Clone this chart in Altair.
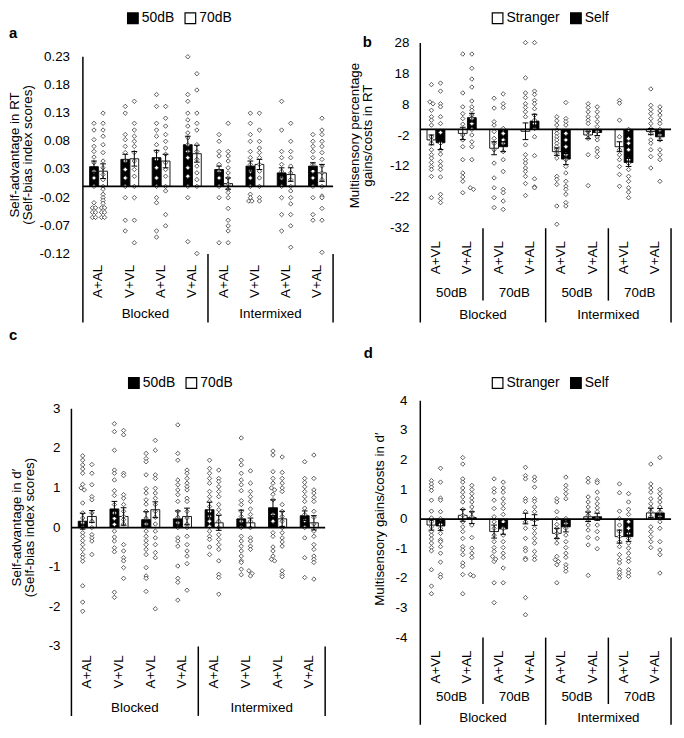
import altair as alt
import pandas as pd

FONT = "Liberation Sans"

# ---------------- Panel a : Self-advantage in RT ----------------
A_CATS = ["A+AL", "V+VL", "A+VL", "V+AL", "A+AL", "V+VL", "A+VL", "V+AL"]
A_GROUPS = ["Blocked", "Intermixed"]
A_SERIES = ["50dB", "70dB"]
A_MEAN_50 = [0.035, 0.048, 0.051, 0.074, 0.030, 0.036, 0.024, 0.036]
A_MEAN_70 = [0.027, 0.049, 0.045, 0.058, 0.005, 0.039, 0.021, 0.024]
A_SE_50 = [0.010, 0.009, 0.013, 0.015, 0.006, 0.009, 0.009, 0.006]
A_SE_70 = [0.013, 0.013, 0.012, 0.015, 0.010, 0.009, 0.012, 0.015]
A_PTS_50 = [
    [0.112, 0.10, 0.083, 0.071, 0.062, 0.052, 0.042, 0.027, 0.015, 0.0, -0.029, -0.038, -0.038, -0.046, -0.046, -0.055, -0.055],
    [0.142, 0.13, 0.092, 0.083, 0.071, 0.06, 0.045, 0.03, 0.015, 0.0, -0.02, -0.06, -0.079],
    [0.163, 0.142, 0.112, 0.10, 0.089, 0.074, 0.062, 0.048, 0.033, 0.015, 0.0, -0.02, -0.029, -0.079, -0.09],
    [0.23, 0.163, 0.151, 0.13, 0.118, 0.107, 0.095, 0.086, 0.074, 0.062, 0.051, 0.033, 0.018, 0.0, -0.02, -0.098],
    [0.092, 0.08, 0.062, 0.054, 0.039, 0.027, 0.015, 0.0, -0.02, -0.1],
    [0.13, 0.112, 0.092, 0.08, 0.062, 0.051, 0.039, 0.027, 0.015, 0.0, -0.014, -0.02, -0.026, -0.026],
    [0.151, 0.10, 0.062, 0.051, 0.039, 0.027, 0.015, 0.0, -0.02, -0.05, -0.079],
    [0.092, 0.08, 0.071, 0.062, 0.051, 0.039, 0.027, 0.015, 0.0, -0.02, -0.05, -0.06],
]
A_PTS_70 = [
    [0.13, 0.112, 0.10, 0.089, 0.074, 0.06, 0.045, 0.033, 0.021, 0.012, 0.0, -0.005, -0.014, -0.02, -0.025, -0.03, -0.038, -0.038, -0.046, -0.046, -0.055, -0.055],
    [0.151, 0.112, 0.10, 0.089, 0.08, 0.071, 0.06, 0.045, 0.03, 0.018, 0.0, -0.02, -0.06, -0.10],
    [0.142, 0.121, 0.107, 0.092, 0.08, 0.068, 0.057, 0.042, 0.03, 0.018, 0.0, -0.008, -0.05, -0.07],
    [0.2, 0.171, 0.13, 0.112, 0.10, 0.074, 0.062, 0.048, 0.036, 0.024, 0.012, 0.0, -0.119],
    [0.112, 0.062, 0.054, 0.045, 0.033, 0.024, 0.015, 0.004, -0.005, -0.011, -0.02, -0.039, -0.06, -0.07, -0.079, -0.1],
    [0.13, 0.10, 0.08, 0.068, 0.06, 0.051, 0.039, 0.027, 0.015, 0.0, -0.02, -0.026],
    [0.112, 0.08, 0.062, 0.051, 0.036, 0.024, 0.012, 0.0, -0.008, -0.02, -0.031, -0.05, -0.07, -0.108],
    [0.121, 0.10, 0.092, 0.08, 0.071, 0.06, 0.048, 0.036, 0.024, 0.012, 0.0, -0.017, -0.02, -0.039, -0.06, -0.117],
]
A_TICKS = [0.23, 0.18, 0.13, 0.08, 0.03, -0.02, -0.07, -0.12]
A_TITLE = ["Self-advantage in RT", "(Self-bias index scores)"]

# ---------------- Panel b : Multisensory gains in RT ----------------
B_CATS = ["A+VL", "V+AL", "A+VL", "V+AL", "A+VL", "V+AL", "A+VL", "V+AL"]
B_SUBS = ["50dB", "70dB", "50dB", "70dB"]
B_GROUPS = ["Blocked", "Intermixed"]
B_SERIES = ["Stranger", "Self"]
B_MEAN_STR = [-3.4, -1.3, -6.1, -0.6, -7.2, -1.8, -5.6, -0.7]
B_MEAN_SELF = [-4.3, 3.8, -5.6, 2.7, -9.6, -1.0, -10.7, -2.4]
B_SE_STR = [1.6, 2.0, 2.1, 2.7, 1.2, 1.2, 1.6, 1.0]
B_SE_SELF = [2.2, 1.4, 1.6, 2.2, 1.8, 1.0, 1.3, 1.2]
B_PTS_STR = [
    [14.5, 8.9, 8.3, 6.2, 4.1, 3.0, 1.4, -2.4, -3.4, -4.5, -6.6, -8.2, -9.3, -10.7, -12.0, -13.0, -15.2, -22.1],
    [24.4, 11.8, 7.3, 5.1, 3.5, 1.7, -1.8, -3.4, -5.6, -9.8, -14.1, -15.4, -16.8, -20.5],
    [10.1, 6.9, 2.5, 1.4, -0.7, -2.9, -4.5, -6.6, -10.9, -15.7, -18.9, -22.1, -25.3],
    [28.1, 16.7, 11.8, 10.3, 8.3, 7.1, 5.7, 4.1, -5.0, -8.2, -9.8, -10.9, -12.5, -13.6, -15.2, -17.5, -21.4],
    [4.1, 2.8, 1.4, -0.2, -1.3, -2.4, -3.4, -4.5, -5.6, -6.6, -7.7, -9.3, -15.2, -16.2, -17.8, -24.8, -30.7],
    [8.3, 7.1, 5.7, 4.1, 3.0, 1.9, -0.7, -1.8, -2.9, -8.2, -18.2],
    [9.4, 8.5, 3.0, -2.4, -6.6, -8.2, -9.8, -12.0, -14.6, -18.4],
    [13.1, 7.8, 6.4, 5.1, 3.5, 1.9, 0.3, -1.3, -3.4, -4.5, -6.6, -8.8, -12.5],
]
B_PTS_SELF = [
    [15.0, 12.4, 8.3, 7.3, 4.1, 1.9, -1.0, -4.5, -6.6, -8.0, -10.4, -11.8, -13.0, -15.4, -21.0, -22.4, -23.7],
    [24.4, 19.8, 16.3, 13.7, 9.2, 7.3, 6.2, 4.6, 3.5, 1.9, 0.0, -1.8, -4.0, -5.6, -9.8, -18.9, -19.4],
    [11.5, 8.3, 7.1, 0.3, -1.3, -3.4, -4.5, -7.2, -9.8, -13.6, -19.4, -20.5, -23.2, -25.9],
    [28.1, 12.4, 11.3, 9.4, 8.3, 6.7, 4.6, 3.0, 1.9, 0.3, -2.4, -8.5, -16.0, -18.6, -18.9],
    [8.7, 3.5, 2.5, 1.4, -1.3, -3.4, -5.6, -8.2, -9.8, -12.0, -14.1, -16.8, -18.4, -19.4, -21.0, -23.7, -24.8],
    [7.3, 5.7, 4.1, 2.5, 0.9, -0.7, -2.4, -3.4, -6.1, -7.2, -8.8],
    [0.0, -3.0, -4.5, -6.6, -9.8, -11.0, -13.0, -15.2, -16.8, -18.9, -20.3, -22.1],
    [7.3, 6.0, 4.6, 3.0, 1.9, 0.0, -1.8, -3.4, -6.6, -8.2, -9.8, -16.8],
]
B_TICKS = [28, 18, 8, -2, -12, -22, -32]
B_TITLE = ["Multisensory percentage", "gains/costs in RT"]

# ---------------- Panel c : Self-advantage in d' ----------------
C_CATS = A_CATS
C_GROUPS = ["Blocked", "Intermixed"]
C_SERIES = ["50dB", "70dB"]
C_MEAN_50 = [0.16, 0.47, 0.20, 0.22, 0.45, 0.22, 0.50, 0.30]
C_MEAN_70 = [0.28, 0.28, 0.45, 0.28, 0.12, 0.12, 0.22, 0.12]
C_SE_50 = [0.20, 0.19, 0.20, 0.20, 0.19, 0.22, 0.20, 0.12]
C_SE_70 = [0.15, 0.22, 0.20, 0.21, 0.19, 0.12, 0.19, 0.18]
C_PTS_50 = [
    [1.81, 1.7, 1.58, 1.48, 1.37, 1.09, 1.0, 0.95, 0.62, 0.37, 0.24, 0.12, 0.0, -0.13, -0.22, -0.33, -0.43, -0.55, -0.68, -0.76, -0.85, -1.47, -1.88, -2.11],
    [2.62, 2.42, 1.95, 1.45, 1.37, 1.2, 0.93, 0.81, 0.58, 0.37, 0.23, 0.08, -0.09, -0.24, -0.34, -0.51, -0.61, -1.63, -1.76],
    [1.87, 1.74, 1.66, 1.33, 0.98, 0.87, 0.7, 0.59, 0.41, 0.24, 0.09, -0.09, -0.22, -0.33, -0.43, -0.55, -0.68, -1.01, -1.22, -1.28, -1.61],
    [2.59, 1.87, 1.7, 1.2, 1.08, 0.95, 0.83, 0.66, 0.41, 0.26, 0.12, 0.0, -0.26, -0.34, -0.47, -0.97, -1.28, -1.38, -1.83],
    [1.7, 1.49, 1.37, 1.24, 1.12, 0.91, 0.78, 0.66, 0.53, 0.41, 0.28, 0.16, 0.03, -0.09, -0.22, -0.3, -0.49, -0.68],
    [2.26, 1.7, 1.58, 1.37, 1.2, 1.08, 0.93, 0.68, 0.58, 0.41, 0.28, 0.16, 0.0, -0.22, -0.34, -0.47, -0.59, -0.72, -0.84, -0.88, -1.05, -1.19],
    [1.93, 1.83, 1.41, 1.24, 1.12, 1.0, 0.95, 0.84, 0.7, 0.33, 0.16, -0.13, -0.22, -0.49, -0.59, -0.72, -0.8, -0.84],
    [1.66, 1.24, 1.14, 1.03, 0.91, 0.78, 0.66, 0.49, 0.33, 0.18, 0.0, -0.26, -0.76, -1.26],
]
C_PTS_70 = [
    [1.59, 1.37, 1.08, 0.78, 0.7, 0.37, 0.16, 0.0, -0.18, -0.26, -0.34, -0.68],
    [2.45, 2.34, 1.37, 1.31, 0.83, 0.74, 0.58, 0.41, 0.28, 0.2, 0.09, -0.43, -0.59, -0.76, -0.84, -1.01, -1.28],
    [2.2, 1.95, 1.33, 1.24, 0.99, 0.87, 0.74, 0.58, 0.41, 0.26, 0.09, -0.09, -0.26, -0.43, -0.63, -0.76, -2.05],
    [1.45, 1.37, 1.24, 1.12, 1.03, 0.95, 0.74, 0.66, 0.41, 0.24, 0.09, 0.0, -0.22, -0.43, -0.59, -0.72, -0.91, -1.58],
    [1.45, 1.24, 1.16, 1.03, 0.91, 0.78, 0.58, 0.45, 0.33, 0.16, 0.0, -0.18, -0.3, -0.43, -0.55, -0.84, -1.18, -1.26, -1.68],
    [1.43, 1.12, 0.91, 0.78, 0.66, 0.47, 0.33, 0.16, 0.0, -0.26, -0.34, -0.47, -0.55, -1.09, -1.16, -1.22],
    [1.78, 1.39, 1.24, 1.12, 1.0, 0.91, 0.58, 0.41, 0.28, 0.16, 0.0, -0.13, -0.26, -0.36, -0.47, -1.09, -1.18, -1.24],
    [1.83, 1.24, 0.95, 0.87, 0.76, 0.66, 0.41, 0.26, 0.09, -0.09, -0.22, -0.43, -0.55, -0.72, -0.8, -0.88, -1.3],
]
C_TICKS = [3, 2, 1, 0, -1, -2, -3]
C_TITLE = ["Self-advantage in d\u2032", "(Self-bias index scores)"]

# ---------------- Panel d : Multisensory gains in d' ----------------
D_CATS = B_CATS
D_SUBS = ["50dB", "70dB", "50dB", "70dB"]
D_GROUPS = ["Blocked", "Intermixed"]
D_SERIES = ["Stranger", "Self"]
D_MEAN_STR = [-0.20, 0.13, -0.42, 0.02, -0.48, 0.08, -0.59, 0.21]
D_MEAN_SELF = [-0.23, 0.05, -0.33, -0.03, -0.26, 0.08, -0.59, 0.21]
D_SE_STR = [0.17, 0.20, 0.22, 0.18, 0.17, 0.16, 0.22, 0.16]
D_SE_SELF = [0.15, 0.20, 0.18, 0.18, 0.17, 0.12, 0.16, 0.15]
D_PTS_STR = [
    [1.3, 1.19, 1.08, 0.97, 0.64, 0.27, 0.04, -0.09, -0.26, -0.42, -0.54, -0.67, -0.81, -0.96, -1.07, -1.71, -2.26, -2.52],
    [2.08, 1.86, 1.36, 1.25, 1.05, 0.91, 0.75, 0.58, 0.33, 0.13, -0.09, -0.26, -0.42, -0.65, -0.93, -1.04, -1.2, -1.48, -1.59, -1.87, -2.52],
    [1.36, 1.03, 0.91, 0.64, 0.36, 0.08, -0.09, -0.31, -0.54, -0.76, -0.96, -1.09, -1.26, -1.43, -1.35, -2.15, -2.82],
    [1.75, 1.47, 1.36, 0.69, 0.6, 0.25, -0.09, -0.31, -0.65, -0.98, -1.07, -1.32, -1.37, -2.65, -3.23],
    [0.69, 0.58, 0.25, 0.02, -0.18, -0.31, -0.48, -0.65, -0.81, -1.26, -1.37, -1.43, -1.54, -2.15],
    [1.38, 1.25, 0.75, 0.58, 0.41, 0.25, 0.13, -0.03, -0.2, -0.37, -0.62, -0.87, -1.9],
    [1.19, 0.89, 0.27, 0.02, -0.2, -0.42, -0.59, -0.76, -0.93, -1.2, -1.37, -1.48, -1.71, -1.87, -1.98, -1.8],
    [1.86, 1.19, 1.05, 0.91, 0.69, 0.52, 0.38, 0.25, 0.08, -0.26, -0.42, -0.59, -0.76, -0.96],
]
D_PTS_SELF = [
    [1.72, 1.25, 0.71, 0.64, 0.25, 0.02, -0.18, -0.31, -0.48, -0.7, -0.76, -0.93, -1.15, -1.45, -1.87, -1.96],
    [1.14, 1.0, 0.86, 0.71, 0.58, 0.41, 0.25, 0.08, -0.2, -0.62, -0.98, -1.15, -1.29, -1.87, -1.92],
    [1.25, 1.05, 0.91, 0.69, 0.52, 0.36, 0.16, -0.09, -0.31, -0.54, -0.76, -0.96, -1.15, -1.29, -1.65, -2.15],
    [1.42, 1.3, 1.08, 0.69, 0.6, 0.41, 0.25, -0.03, -0.31, -0.48, -0.65, -0.81, -1.09, -1.26, -1.37],
    [1.42, 1.14, 1.0, 0.86, 0.69, 0.02, -0.14, -0.31, -0.54, -0.76, -0.96, -1.15, -1.29, -1.54, -1.65, -1.76],
    [1.3, 1.23, 0.91, 0.69, 0.52, 0.38, 0.25, 0.02, -0.2, -0.42, -0.65, -1.0],
    [0.86, 0.58, 0.33, 0.16, -0.09, -0.31, -0.48, -0.65, -0.81, -0.98, -1.15, -1.32, -1.43, -1.71, -1.82, -1.93],
    [2.08, 1.0, 0.86, 0.71, 0.58, 0.41, 0.25, 0.08, -0.09, -0.31, -0.76, -1.04, -1.2, -1.82],
]
D_TICKS = [4, 3, 2, 1, 0, -1, -2, -3, -4]
D_TITLE = ["Multisensory gains/costs in d\u2032"]


def bar_frame(series, means, ses):
    rows = []
    for k, (s, m, e) in enumerate(zip(series, means, ses)):
        for i in range(len(m)):
            rows.append({"cat": i, "k": k, "series": s, "mean": m[i],
                         "lo": m[i] - e[i], "hi": m[i] + e[i]})
    return pd.DataFrame(rows)


def point_frame(pts_lists):
    rows = []
    for k, pts in enumerate(pts_lists):
        for i, vals in enumerate(pts):
            for v in vals:
                rows.append({"cat": i, "k": k, "value": v})
    return pd.DataFrame(rows)


def group_frame(names, size):
    return pd.DataFrame({"name": names,
                         "first": [size * g for g in range(len(names))],
                         "last": [size * g + size - 1 for g in range(len(names))]})


def make_panel(cats, series, fills, means, ses, pts, groups, subs, ticks, titles, P):
    W, H, ext = P["W"], P["H"], P["ext"]
    cw = (W - ext) / 8.0
    xs = alt.Scale(domain=[-0.5 - ext / cw, 7.5], nice=False, zero=False)
    y0, y1 = P["ydom"]
    ys = alt.Scale(domain=[y0, y1], nice=False, zero=False)
    pxu = H / (y1 - y0)
    off = 0.145
    side = f"(datum.k == 0 ? {-off} : {off})"
    cap = 3.0 / cw

    def X(f):
        return alt.X(f, type="quantitative", scale=xs, axis=None)

    def Y(f):
        return alt.Y(f, type="quantitative", scale=ys, axis=None)

    XAX = alt.XDatum(-0.5, type="quantitative", scale=xs, axis=None)

    bdf = bar_frame(series, means, ses)
    pdf = point_frame(pts)
    ldf = pd.DataFrame({"cat": list(range(len(cats))), "label": cats})
    gdf = group_frame(groups, 4)
    tdf = pd.DataFrame({"v": ticks})

    legend = alt.Legend(orient="none", legendX=P["lgx"], legendY=P["lgy"],
                        direction="horizontal", title=None, symbolType="square",
                        symbolSize=115, symbolStrokeColor="black", symbolStrokeWidth=1.2,
                        labelFont=FONT, labelFontSize=14, labelColor="black",
                        columnPadding=8, labelOffset=2, padding=0)

    bars = alt.Chart(bdf).transform_calculate(
        xpos=f"datum.cat + {side}"
    ).mark_bar(size=0.27 * cw, stroke="black", strokeWidth=0.9).encode(
        x=X("xpos"),
        y=Y("mean"),
        y2=alt.datum(0),
        fill=alt.Fill("series:N", scale=alt.Scale(domain=series, range=fills), legend=legend),
    )

    points = alt.Chart(pdf).transform_calculate(
        b=f"round(datum.value * {pxu / 3.0})"
    ).transform_window(
        r="row_number()", groupby=["cat", "k", "b"]
    ).transform_joinaggregate(
        n="count()", groupby=["cat", "k", "b"]
    ).transform_calculate(
        xpos=f"datum.cat + {side} + (datum.r - (datum.n + 1) / 2) * {3.3 / cw}"
    ).mark_point(shape="diamond", size=20, filled=True, fill="white",
                 stroke="#333333", strokeWidth=0.8, opacity=1).encode(
        x=X("xpos"), y=Y("value"))

    eb = alt.Chart(bdf).transform_calculate(
        xpos=f"datum.cat + {side}",
        xl=f"datum.cat + {side} - {cap}",
        xr=f"datum.cat + {side} + {cap}",
    )
    stem = eb.mark_rule(color="black", strokeWidth=1).encode(x=X("xpos"), y=Y("lo"), y2="hi")
    cap_hi = eb.mark_rule(color="black", strokeWidth=1).encode(x=X("xl"), x2="xr", y=Y("hi"))
    cap_lo = eb.mark_rule(color="black", strokeWidth=1).encode(x=X("xl"), x2="xr", y=Y("lo"))

    one = pd.DataFrame({"z": [0]})
    zero = alt.Chart(one).mark_rule(color="black", strokeWidth=1.8).encode(
        x=XAX, x2=alt.datum(7.5),
        y=alt.YDatum(0, type="quantitative", scale=ys, axis=None),
    )
    yline = alt.Chart(one).mark_rule(color="black", strokeWidth=1.5).encode(
        x=XAX,
        y=alt.YDatum(P["ytop"], type="quantitative", scale=ys, axis=None),
        y2=alt.value(H + P["long_end"]),
    )
    long_sep = alt.Chart(gdf).transform_calculate(edge="datum.last + 0.5").mark_rule(
        color="black", strokeWidth=1.5).encode(
        x=X("edge"),
        y=alt.YDatum(y0, type="quantitative", scale=ys, axis=None),
        y2=alt.value(H + P["long_end"]),
    )
    # y tick labels, placed through the y scale
    tick_text = alt.Chart(tdf).transform_calculate(
        lab=f"replace(format(datum.v, '{P['fmt']}'), '\u2212', '-')"
    ).mark_text(align="right", baseline="middle", dx=-P["lp"], font=FONT, fontSize=13.5,
                color="black").encode(x=XAX, y=Y("v"), text="lab:N")
    cat_text = alt.Chart(ldf).mark_text(angle=270, align="right", baseline="middle",
                                        font=FONT, fontSize=13.5, color="black").encode(
        x=X("cat"), y=alt.value(H + P["lab_top"]), text="label:N")
    grp_text = alt.Chart(gdf).transform_calculate(center="(datum.first + datum.last) / 2").mark_text(
        align="center", baseline="middle", font=FONT, fontSize=13.5, color="black").encode(
        x=X("center"), y=alt.value(H + P["grp_y"]), text="name:N")
    letter = alt.Chart(pd.DataFrame({"t": [P["letter"]]})).mark_text(
        align="left", baseline="middle", font=FONT, fontSize=15, fontWeight="bold",
        color="black").encode(x=alt.value(P["ltx"]), y=alt.value(P["lty"]), text="t:N")

    layers = [bars, points, stem, cap_hi, cap_lo, zero, yline, long_sep,
              tick_text, cat_text, grp_text, letter]

    # y axis title, one rotated text per line
    for i, line in enumerate(titles):
        layers.append(alt.Chart(pd.DataFrame({"line": [line]})).mark_text(
            angle=270, align="center", baseline="middle", font=FONT, fontSize=13.5, color="black"
        ).encode(x=alt.value(P["tx"] + 13.5 * i), y=alt.value(P["ty"]), text="line:N"))

    if subs is not None:
        sdf = group_frame(subs, 2)
        short_sep = alt.Chart(sdf).transform_filter("(datum.last + 1) % 4 != 0").transform_calculate(
            edge="datum.last + 0.5").mark_rule(color="black", strokeWidth=1.5).encode(
            x=X("edge"),
            y=alt.YDatum(y0, type="quantitative", scale=ys, axis=None),
            y2=alt.value(H + P["sub_end"]),
        )
        sub_text = alt.Chart(sdf).transform_calculate(center="(datum.first + datum.last) / 2").mark_text(
            align="center", baseline="middle", font=FONT, fontSize=13.5, color="black").encode(
            x=X("center"), y=alt.value(H + P["sub_y"]), text="name:N")
        layers += [short_sep, sub_text]

    return alt.layer(*layers).properties(width=W, height=H)


PA = dict(W=274, H=213, ext=12, ydom=[-0.12, 0.2546], ytop=0.23, fmt=".2f", lp=13,
          tx=-52, ty=113,
          lgx=60, lgy=-32, letter="a", ltx=-58, lty=-10, lab_top=11, grp_y=61, long_end=69)
PB = dict(W=263, H=187, ext=0, ydom=[-32, 28], ytop=28, fmt="d", lp=11,
          tx=-61, ty=93.5,
          lgx=76, lgy=-32, letter="b", ltx=-53, lty=-1, lab_top=13, sub_y=65, sub_end=73,
          grp_y=88, long_end=95)
PC = dict(W=266, H=248, ext=0, ydom=[-3, 3.2], ytop=3, fmt="d", lp=11,
          tx=-50, ty=128,
          lgx=61, lgy=-25, letter="c", ltx=-58, lty=-66, lab_top=9, grp_y=62, long_end=70)
PD = dict(W=263, H=239, ext=0, ydom=[-4, 4], ytop=4, fmt="d", lp=13,
          tx=-36, ty=119.5,
          lgx=76, lgy=-25, letter="d", ltx=-52, lty=-48, lab_top=13, sub_y=60, sub_end=67,
          grp_y=81, long_end=88)

pa = make_panel(A_CATS, A_SERIES, ["black", "white"], [A_MEAN_50, A_MEAN_70], [A_SE_50, A_SE_70],
                [A_PTS_50, A_PTS_70], A_GROUPS, None, A_TICKS, A_TITLE, PA)
pb = make_panel(B_CATS, B_SERIES, ["white", "black"], [B_MEAN_STR, B_MEAN_SELF], [B_SE_STR, B_SE_SELF],
                [B_PTS_STR, B_PTS_SELF], B_GROUPS, B_SUBS, B_TICKS, B_TITLE, PB)
pc = make_panel(C_CATS, C_SERIES, ["black", "white"], [C_MEAN_50, C_MEAN_70], [C_SE_50, C_SE_70],
                [C_PTS_50, C_PTS_70], C_GROUPS, None, C_TICKS, C_TITLE, PC)
pd_ = make_panel(D_CATS, D_SERIES, ["white", "black"], [D_MEAN_STR, D_MEAN_SELF], [D_SE_STR, D_SE_SELF],
                 [D_PTS_STR, D_PTS_SELF], D_GROUPS, D_SUBS, D_TICKS, D_TITLE, PD)

chart = alt.concat(
    pa, pb, pc, pd_, columns=2,
    spacing={"row": 148, "column": 78}, bounds="flush", align="each",
).resolve_scale(
    x="independent", y="independent", fill="independent"
).resolve_legend(
    fill="independent"
).properties(padding=0).configure_view(stroke=None)

chart.save("out.html", embed_options={"renderer": "svg", "actions": False})
